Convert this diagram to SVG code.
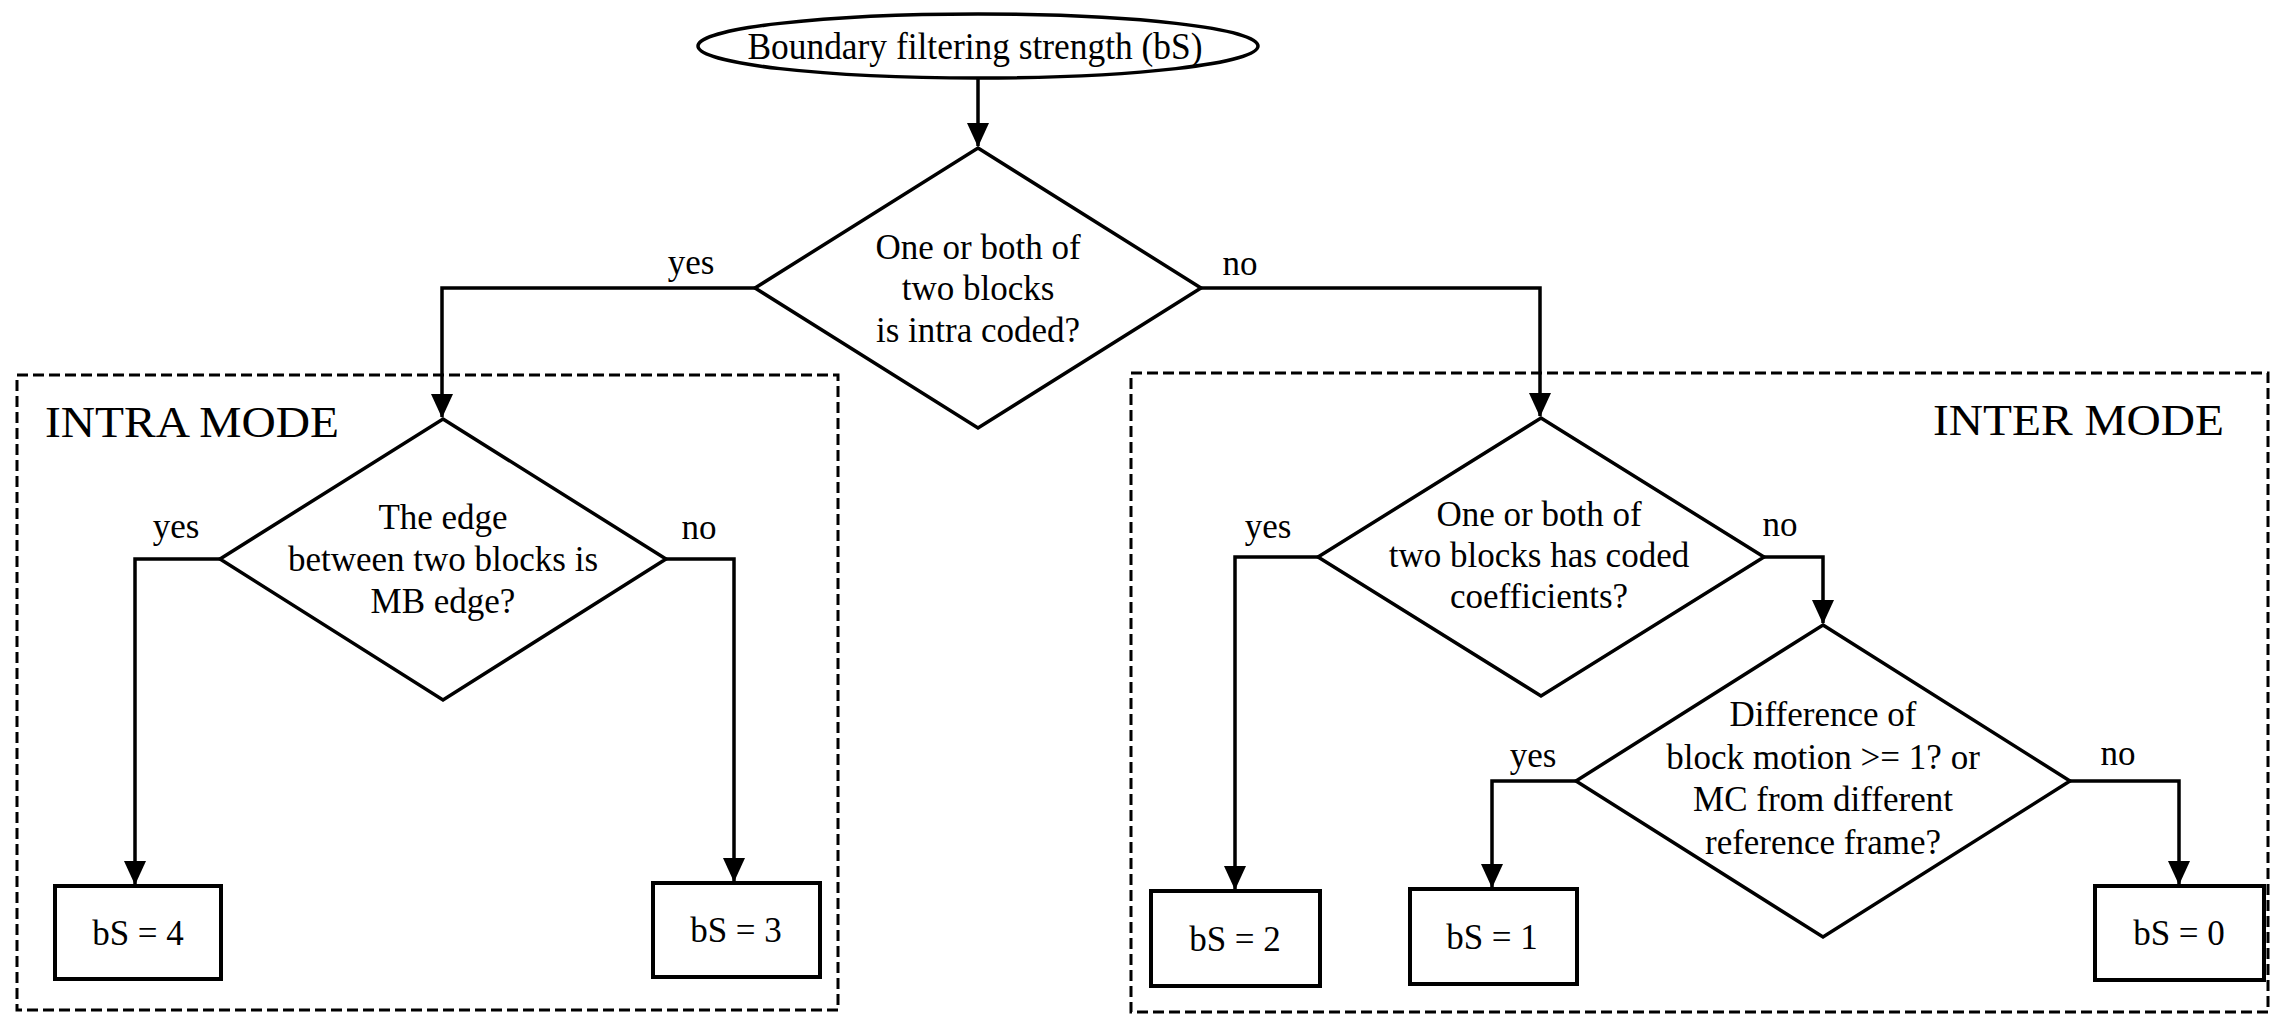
<svg xmlns="http://www.w3.org/2000/svg" width="2271" height="1016" viewBox="0 0 2271 1016">
<defs>
<style>
.s{fill:#fff;stroke:#000;stroke-width:3.5}
.b{fill:#fff;stroke:#000;stroke-width:4}
.d{fill:none;stroke:#000;stroke-width:3;stroke-dasharray:11 5}
.c{fill:none;stroke:#000;stroke-width:3.5}
text{font-family:"Liberation Serif","Times New Roman",serif;font-size:35px;fill:#000}
.m{text-anchor:middle}
.t{font-size:45px}
</style>
<marker id="ah" viewBox="0 0 24 22" refX="23" refY="11" markerWidth="24" markerHeight="22" markerUnits="userSpaceOnUse" orient="auto">
<path d="M0,0 L24,11 L0,22 z" fill="#000"/>
</marker>
</defs>
<rect width="2271" height="1016" fill="#fff"/>

<g id="intra-mode">
<rect class="d" x="17" y="375" width="821" height="635"/>
<text class="t" x="45" y="437" textLength="294" lengthAdjust="spacingAndGlyphs">INTRA MODE</text>
</g>
<g id="inter-mode">
<rect class="d" x="1131" y="373" width="1137" height="639"/>
<text class="t" x="1933" y="435" textLength="291" lengthAdjust="spacingAndGlyphs">INTER MODE</text>
</g>

<g id="connectors">
<path class="c" d="M978,78 V146" marker-end="url(#ah)"/>
<path class="c" d="M755,288 H442 V417" marker-end="url(#ah)"/>
<path class="c" d="M1201,288 H1540 V416" marker-end="url(#ah)"/>
<path class="c" d="M220,559 H135 V884" marker-end="url(#ah)"/>
<path class="c" d="M666,559 H734 V881" marker-end="url(#ah)"/>
<path class="c" d="M1318,557 H1235 V889" marker-end="url(#ah)"/>
<path class="c" d="M1764,557 H1823 V623" marker-end="url(#ah)"/>
<path class="c" d="M1576,781 H1492 V887" marker-end="url(#ah)"/>
<path class="c" d="M2070,781 H2179 V884" marker-end="url(#ah)"/>
<text class="m" x="691" y="274">yes</text>
<text class="m" x="1240" y="275">no</text>
<text class="m" x="176" y="538">yes</text>
<text class="m" x="699" y="539">no</text>
<text class="m" x="1268" y="538">yes</text>
<text class="m" x="1780" y="536">no</text>
<text class="m" x="1533" y="767">yes</text>
<text class="m" x="2118" y="765">no</text>
</g>

<g id="start">
<ellipse class="s" cx="978" cy="46" rx="280" ry="32"/>
<text class="m" x="975" y="59" style="font-size:37px" textLength="455" lengthAdjust="spacingAndGlyphs">Boundary filtering strength (bS)</text>
</g>

<g id="d-intra-coded">
<polygon class="s" points="978,148 1201,288 978,428 755,288"/>
<text class="m" x="978" y="259">One or both of</text>
<text class="m" x="978" y="300">two blocks</text>
<text class="m" x="978" y="342">is intra coded?</text>
</g>

<g id="d-mb-edge">
<polygon class="s" points="443,419 666,559 443,700 220,559"/>
<text class="m" x="443" y="529">The edge</text>
<text class="m" x="443" y="571">between two blocks is</text>
<text class="m" x="443" y="613">MB edge?</text>
</g>

<g id="d-coded-coef">
<polygon class="s" points="1541,418 1764,557 1541,696 1318,557"/>
<text class="m" x="1539" y="526">One or both of</text>
<text class="m" x="1539" y="567">two blocks has coded</text>
<text class="m" x="1539" y="608">coefficients?</text>
</g>

<g id="d-motion">
<polygon class="s" points="1823,625 2070,781 1823,937 1576,781"/>
<text class="m" x="1823" y="726">Difference of</text>
<text class="m" x="1823" y="769">block motion &gt;= 1? or</text>
<text class="m" x="1823" y="811">MC from different</text>
<text class="m" x="1823" y="854">reference frame?</text>
</g>

<g id="bs4">
<rect class="b" x="55" y="886" width="166" height="93"/>
<text class="m" x="138" y="945">bS = 4</text>
</g>
<g id="bs3">
<rect class="b" x="653" y="883" width="167" height="94"/>
<text class="m" x="736" y="942">bS = 3</text>
</g>
<g id="bs2">
<rect class="b" x="1151" y="891" width="169" height="95"/>
<text class="m" x="1235" y="951">bS = 2</text>
</g>
<g id="bs1">
<rect class="b" x="1410" y="889" width="167" height="95"/>
<text class="m" x="1492" y="949">bS = 1</text>
</g>
<g id="bs0">
<rect class="b" x="2095" y="886" width="169" height="94"/>
<text class="m" x="2179" y="945">bS = 0</text>
</g>
</svg>
